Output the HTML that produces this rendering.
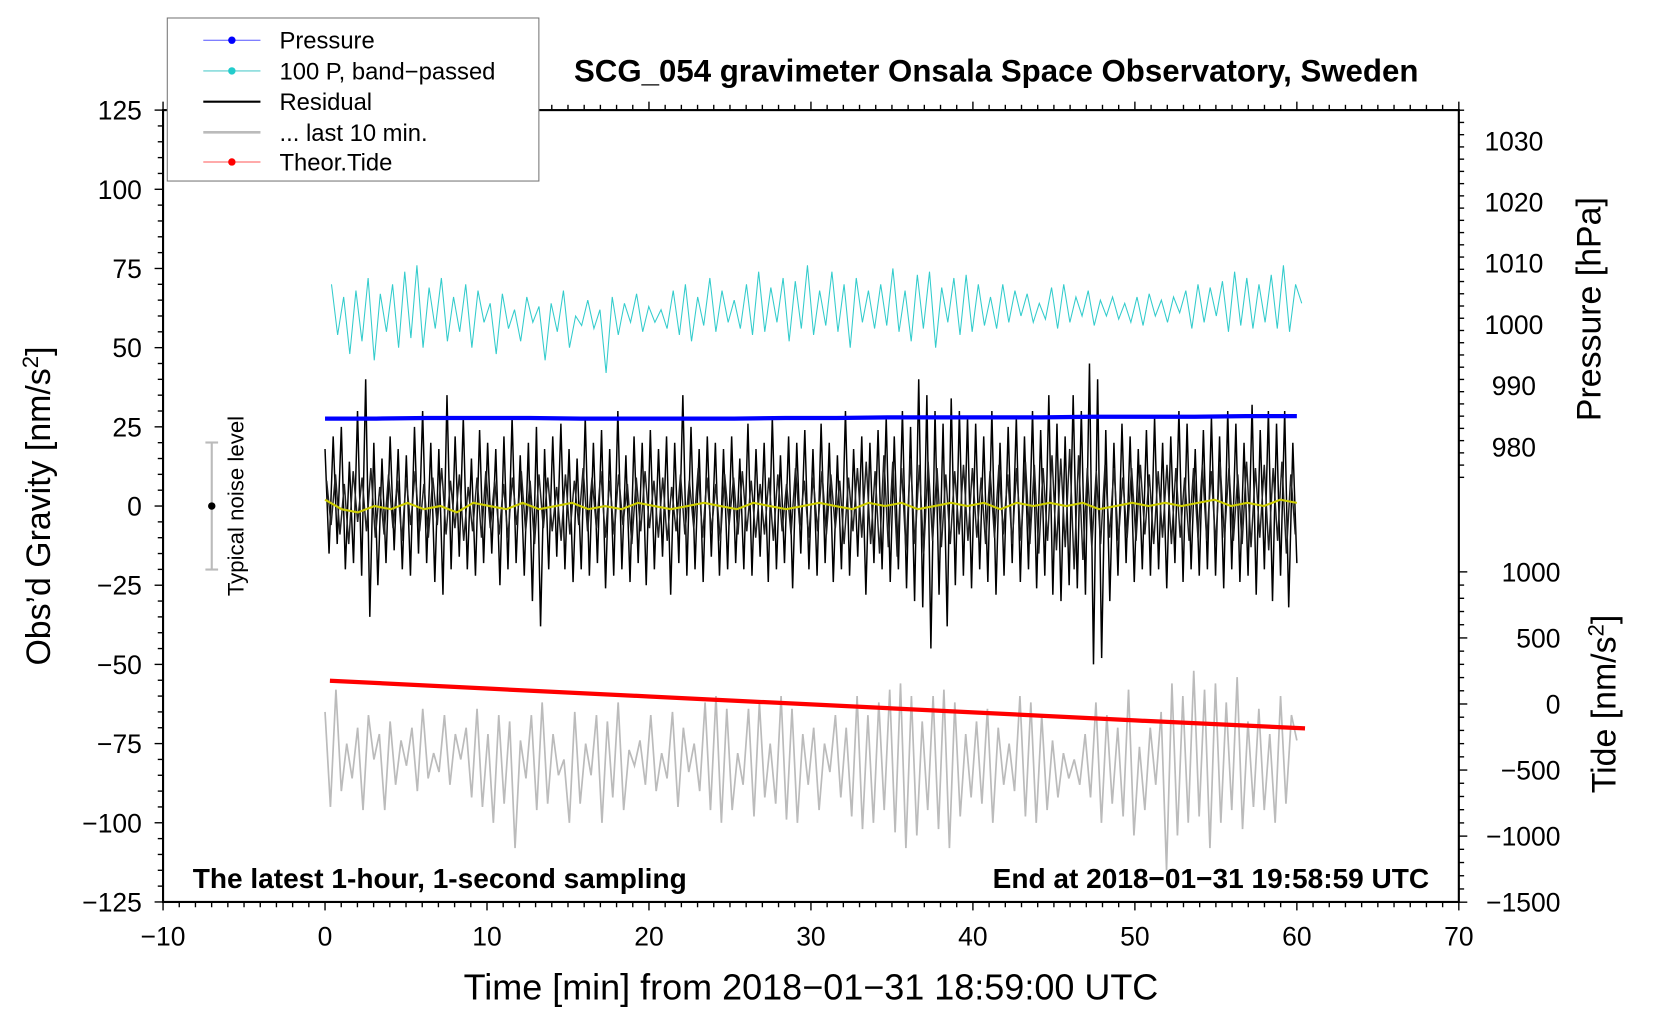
<!DOCTYPE html>
<html><head><meta charset="utf-8"><style>
html,body{margin:0;padding:0;background:#fff;}
svg{display:block;font-family:"Liberation Sans",sans-serif;}
</style></head><body>
<svg id="chart" width="1660" height="1020" viewBox="0 0 1568 963.5" xmlns="http://www.w3.org/2000/svg">
<g id="marks"></g>
<g id="axes"></g>
</svg>
<script>
const residual = [18,-15,22,-12,25,-20,14,-18,30,-22,40,-35,20,-25,15,-18,22,-14,18,-20,
16,-22,25,-15,30,-18,20,-24,18,-28,35,-20,22,-16,28,-20,15,-22,24,-18,
20,-15,18,-25,22,-20,28,-18,16,-22,20,-30,25,-38,18,-20,22,-16,26,-20,
18,-24,15,-20,28,-22,20,-18,24,-26,18,-22,30,-20,16,-24,22,-18,20,-25,
24,-20,18,-16,22,-28,20,-18,35,-22,25,-20,18,-24,22,-16,20,-22,18,-20,
22,-18,15,-20,26,-22,18,-16,20,-24,28,-20,16,-18,22,-26,20,-15,24,-20,
18,-22,26,-18,20,-24,16,-20,30,-22,18,-16,22,-28,20,-18,24,-20,28,-24,
22,-20,30,-26,25,-30,40,-32,35,-45,30,-28,26,-38,34,-25,30,-22,28,-26,
26,-20,22,-24,30,-28,20,-22,25,-18,28,-24,22,-20,30,-26,24,-22,35,-28,
26,-30,22,-25,35,-26,30,-28,45,-50,40,-48,24,-30,20,-22,26,-18,22,-24,
18,-20,24,-22,28,-20,20,-26,22,-18,30,-24,26,-20,18,-22,24,-20,28,-22,
22,-26,30,-20,26,-24,20,-22,32,-28,24,-20,30,-30,26,-22,30,-32,20,-18];
const residualInner = [8,-6,10,-9,7,-12,11,-5,9,-8,12,-10,6,-9,10,-7,8,-11,9,-6,
11,-8,7,-10,9,-6,12,-9,8,-7,10,-11,6,-8,9,-10,11,-7,8,-9,
7,-10,9,-6,11,-8,8,-12,10,-7,9,-8,6,-11,10,-9,8,-6,12,-8,
9,-7,11,-10,8,-9,10,-6,7,-12,9,-8,11,-7,8,-10,9,-11,6,-8,
10,-9,8,-7,12,-10,9,-8,7,-11,10,-6,9,-9,11,-8,8,-10,7,-9,
9,-11,10,-8,7,-9,12,-7,8,-10,9,-8,11,-9,10,-7,8,-12,9,-8,
12,-10,14,-12,11,-15,16,-13,14,-16,12,-14,15,-12,13,-15,14,-11,12,-13,
10,-12,11,-9,13,-11,12,-10,9,-12,11,-10,13,-9,10,-12,12,-11,14,-12,
13,-15,12,-11,16,-14,15,-13,18,-20,16,-17,12,-13,11,-12,13,-10,12,-11,
9,-10,12,-11,13,-9,10,-12,11,-10,13,-12,12,-10,9,-11,12,-10,13,-11,
11,-12,14,-10,12,-11,10,-12,14,-13,12,-10,13,-14,12,-11,14,-15,10,-9];
const bandPassed = [70,54,66,48,68,52,72,46,67,55,70,50,74,53,76,50,69,56,72,52,
66,55,70,50,68,58,64,48,67,56,62,52,66,58,63,46,64,55,68,50,
60,57,65,56,62,42,66,54,64,58,67,55,63,58,62,56,68,54,70,52,
66,57,72,55,68,58,65,56,70,54,74,55,69,58,72,52,71,56,76,54,
68,57,74,55,70,50,72,58,68,56,70,57,75,55,68,52,73,56,74,50,
69,58,72,54,73,55,70,57,66,56,70,58,68,60,67,58,64,59,69,56,
70,58,66,60,68,57,65,60,66,59,64,58,66,57,67,60,65,58,66,61,
68,56,70,58,69,60,71,55,74,57,72,56,70,58,73,56,76,55,70,64];
const last10 = [-65,-95,-58,-90,-75,-86,-70,-96,-66,-80,-72,-96,-68,-88,-74,-82,-70,-90,-64,-86,
-78,-84,-66,-88,-72,-80,-70,-92,-64,-95,-72,-100,-66,-94,-68,-108,-74,-86,-66,-96,
-62,-94,-72,-85,-80,-100,-65,-94,-75,-85,-66,-100,-68,-92,-62,-96,-77,-82,-74,-88,
-66,-90,-78,-86,-65,-95,-70,-84,-75,-90,-62,-96,-60,-100,-64,-96,-78,-88,-64,-98,
-62,-92,-75,-94,-60,-99,-64,-100,-72,-88,-70,-96,-75,-84,-66,-92,-70,-98,-60,-102,
-66,-100,-62,-96,-58,-103,-56,-108,-60,-104,-68,-96,-60,-102,-58,-108,-62,-98,-72,-92,
-68,-94,-64,-100,-70,-88,-75,-90,-60,-98,-62,-100,-66,-96,-74,-92,-78,-86,-80,-88,
-72,-92,-62,-100,-66,-94,-70,-98,-58,-104,-76,-96,-70,-88,-65,-115,-56,-104,-60,-100,
-52,-98,-58,-108,-56,-100,-62,-96,-54,-102,-68,-95,-64,-96,-72,-100,-60,-94,-66,-74];
const smoothed = [2,-1,-2,0,-1,1,-1,0,-2,1,0,-1,1,-1,0,1,-1,0,-1,1,0,-1,0,1,0,-1,1,0,-1,0,
1,0,-1,1,0,1,-1,0,1,0,1,-1,1,0,1,0,1,-1,0,1,0,1,0,1,2,0,1,0,2,1];
const pressure = [984.6,984.6,984.7,984.7,984.7,984.6,984.6,984.6,984.6,984.7,984.7,984.8,984.8,984.8,984.8,984.9,984.9,984.9,985.0,985.0];
const tideT = [0.3,10,20,30,40,50,60.5];
const tide = [176,117,57,-3,-63,-124,-184];
const xTicks = [-10,0,10,20,30,40,50,60,70];
const yTicks = [125,100,75,50,25,0,-25,-50,-75,-100,-125];
const pTicks = [980,990,1000,1010,1020,1030];
const tTicks = [1000,500,0,-500,-1000,-1500];

const NS="http://www.w3.org/2000/svg";
const L=154,R=1378,T=104,B=852;
const X=v=>L+(v+10)*(R-L)/80;
const Y=v=>478-v*(B-T)/250;
const YP=v=>422-(v-980)*(422-133)/50;
const YT=v=>665-v*(852-540)/2500;
const marks=document.getElementById('marks'), axes=document.getElementById('axes');
function el(tag,attrs,parent,text){const e=document.createElementNS(NS,tag);for(const k in attrs)e.setAttribute(k,attrs[k]);if(text!==undefined)e.textContent=text;parent.appendChild(e);return e;}
function series(arr,t0,t1,fx){const n=arr.length;return arr.map((v,i)=>X(t0+(t1-t0)*i/(n-1)).toFixed(1)+','+fx(v).toFixed(1)).join(' ');}

let p;
p=el('polyline',{points:series(bandPassed,0.4,60.3,v=>Y(v)),fill:'none',stroke:'#33cccc','stroke-width':1},marks);


p=el('polyline',{points:series(last10,0,60,v=>Y(v)),fill:'none',stroke:'#bbbbbb','stroke-width':1.6},marks);


p=el('polyline',{points:series(residual,0,60,v=>Y(v)),fill:'none',stroke:'#000','stroke-width':1.4},marks);


p=el('polyline',{points:series(residualInner,0.1,59.9,v=>Y(v)),fill:'none',stroke:'#222','stroke-width':1.4},marks);


p=el('polyline',{points:series(smoothed,0,60,v=>Y(v)),fill:'none',stroke:'#cccc00','stroke-width':2},marks);


p=el('polyline',{points:series(pressure,0,60,v=>YP(v)),fill:'none',stroke:'#0000ff','stroke-width':4},marks);


p=el('polyline',{points:tide.map((v,i)=>X(tideT[i]).toFixed(1)+','+YT(v).toFixed(1)).join(' '),fill:'none',stroke:'#ff0000','stroke-width':4},marks);



p=el('rect',{x:L,y:T,width:R-L,height:B-T,fill:'none',stroke:'#000','stroke-width':2},axes);


for(let v=-10;v<=70;v++){const big=v%10===0;el('line',{x1:X(v),x2:X(v),y1:B,y2:B+(big?8:5),stroke:'#000','stroke-width':1.3},axes);el('line',{x1:X(v),x2:X(v),y1:T,y2:T-(big?8:5),stroke:'#000','stroke-width':1.3},axes);}
xTicks.forEach(v=>{const t=el('text',{x:X(v),y:B+41,'font-size':25,'text-anchor':'middle'},axes,String(v).replace('-','\u2212'));});
for(let v=-125;v<=125;v+=5){const big=v%25===0;el('line',{x1:L,x2:L-(big?8:5),y1:Y(v),y2:Y(v),stroke:'#000','stroke-width':1.3},axes);}
yTicks.forEach(v=>{const t=el('text',{x:L-20,y:Y(v)+9,'font-size':25,'text-anchor':'end'},axes,String(v).replace('-','\u2212'));});
for(let v=975;v<=1035;v+=2){if(YP(v)<T||YP(v)>478)continue;el('line',{x1:R,x2:R+(v%10===0?8:5),y1:YP(v),y2:YP(v),stroke:'#000','stroke-width':1.3},axes);}
pTicks.forEach(v=>{const t=el('text',{x:1430,y:YP(v)+9,'font-size':25,'text-anchor':'middle'},axes,String(v));});
for(let v=-1500;v<=1000;v+=100){el('line',{x1:R,x2:R+(v%500===0?8:5),y1:YT(v),y2:YT(v),stroke:'#000','stroke-width':1.3},axes);}
tTicks.forEach(v=>{const t=el('text',{x:1474,y:YT(v)+9,'font-size':25,'text-anchor':'end'},axes,String(v).replace('-','\u2212'));});
</script>
<svg style="position:absolute;left:0;top:0" width="1660" height="1020" viewBox="0 0 1568 963.5" xmlns="http://www.w3.org/2000/svg" font-family="Liberation Sans, sans-serif">
<text x="941" y="77" font-size="29.5" font-weight="bold" text-anchor="middle">SCG_054 gravimeter Onsala Space Observatory, Sweden</text>
<text x="766" y="944" font-size="34" text-anchor="middle">Time [min] from 2018−01−31 18:59:00 UTC</text>
<text transform="translate(47,478) rotate(-90)" font-size="32" text-anchor="middle">Obs’d Gravity [nm/s<tspan baseline-shift="super" font-size="21">2</tspan>]</text>
<text transform="translate(1512,292) rotate(-90)" font-size="32" text-anchor="middle">Pressure [hPa]</text>
<text transform="translate(1526,665) rotate(-90)" font-size="32" text-anchor="middle">Tide [nm/s<tspan baseline-shift="super" font-size="21">2</tspan>]</text>
<text x="182" y="839" font-size="26.5" font-weight="bold">The latest 1-hour, 1-second sampling</text>
<text x="1350" y="839" font-size="26.5" font-weight="bold" text-anchor="end">End at 2018−01−31 19:58:59 UTC</text>
<g>
<line x1="200" y1="418" x2="200" y2="538" stroke="#bbb" stroke-width="2"/>
<line x1="194" y1="418" x2="206" y2="418" stroke="#bbb" stroke-width="2"/>
<line x1="194" y1="538" x2="206" y2="538" stroke="#bbb" stroke-width="2"/>
<circle cx="200" cy="478" r="3.5" fill="#000"/>
<text transform="translate(230,478) rotate(-90)" font-size="21" text-anchor="middle">Typical noise level</text>
</g>
<g>
<rect x="158" y="17" width="351" height="154" fill="#fff" stroke="#777" stroke-width="1"/>
<line x1="192" y1="38" x2="246" y2="38" stroke="#55f" stroke-width="1"/><circle cx="219" cy="38" r="3.5" fill="#00f"/>
<text x="264" y="46" font-size="22.5">Pressure</text>
<line x1="192" y1="67" x2="246" y2="67" stroke="#5cc" stroke-width="1"/><circle cx="219" cy="67" r="3.5" fill="#2cc"/>
<text x="264" y="75" font-size="22.5">100 P, band−passed</text>
<line x1="192" y1="96" x2="246" y2="96" stroke="#000" stroke-width="2"/>
<text x="264" y="104" font-size="22.5">Residual</text>
<line x1="192" y1="125" x2="246" y2="125" stroke="#bbb" stroke-width="2.5"/>
<text x="264" y="133" font-size="22.5">... last 10 min.</text>
<line x1="192" y1="153" x2="246" y2="153" stroke="#f55" stroke-width="1"/><circle cx="219" cy="153" r="3.5" fill="#f00"/>
<text x="264" y="161" font-size="22.5">Theor.Tide</text>
</g>
</svg>
</body></html>
